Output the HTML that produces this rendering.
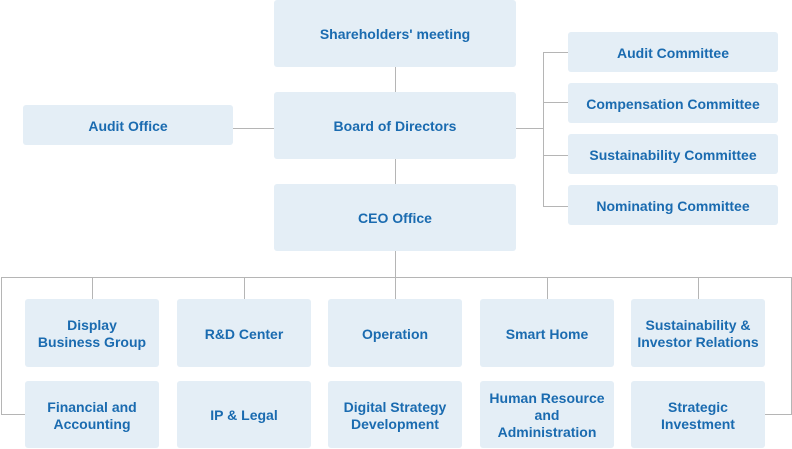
<!DOCTYPE html>
<html><head><meta charset="utf-8"><style>
body{margin:0;width:792px;height:449px;background:#fff;position:relative;overflow:hidden;font-family:"Liberation Sans",Arial,sans-serif}
.b{position:absolute;background:#e4eef6;border-radius:3px;display:flex;align-items:center;justify-content:center;text-align:center;color:#1a6bb0;font-weight:bold;font-size:14px;line-height:17px;box-sizing:border-box;padding-top:2px}
.l{position:absolute;background:#b5b5b5}
</style></head><body>
<div class="l" style="left:395px;top:67px;width:1px;height:184px"></div>
<div class="l" style="left:233px;top:128px;width:41px;height:1px"></div>
<div class="l" style="left:516px;top:128px;width:27px;height:1px"></div>
<div class="l" style="left:543px;top:52px;width:1px;height:155px"></div>
<div class="l" style="left:543px;top:52px;width:25px;height:1px"></div>
<div class="l" style="left:543px;top:102px;width:25px;height:1px"></div>
<div class="l" style="left:543px;top:155px;width:25px;height:1px"></div>
<div class="l" style="left:543px;top:206px;width:25px;height:1px"></div>
<div class="l" style="left:395px;top:251px;width:1px;height:26px"></div>
<div class="l" style="left:1px;top:277px;width:790px;height:1px"></div>
<div class="l" style="left:1px;top:277px;width:1px;height:138px"></div>
<div class="l" style="left:1px;top:414px;width:24px;height:1px"></div>
<div class="l" style="left:791px;top:277px;width:1px;height:138px"></div>
<div class="l" style="left:765px;top:414px;width:26px;height:1px"></div>
<div class="l" style="left:92px;top:277px;width:1px;height:22px"></div>
<div class="l" style="left:244px;top:277px;width:1px;height:22px"></div>
<div class="l" style="left:395px;top:277px;width:1px;height:22px"></div>
<div class="l" style="left:547px;top:277px;width:1px;height:22px"></div>
<div class="l" style="left:698px;top:277px;width:1px;height:22px"></div>

<div class="b" style="left:274px;top:0;width:242px;height:67px">Shareholders' meeting</div>
<div class="b" style="left:274px;top:92px;width:242px;height:67px">Board of Directors</div>
<div class="b" style="left:274px;top:184px;width:242px;height:67px">CEO Office</div>
<div class="b" style="left:23px;top:105px;width:210px;height:40px">Audit Office</div>
<div class="b" style="left:568px;top:32px;width:210px;height:40px">Audit Committee</div>
<div class="b" style="left:568px;top:83px;width:210px;height:40px">Compensation Committee</div>
<div class="b" style="left:568px;top:134px;width:210px;height:40px">Sustainability Committee</div>
<div class="b" style="left:568px;top:185px;width:210px;height:40px">Nominating Committee</div>

<div class="b" style="left:25px;top:299px;width:134px;height:68px">Display<br>Business Group</div>
<div class="b" style="left:177px;top:299px;width:134px;height:68px">R&amp;D Center</div>
<div class="b" style="left:328px;top:299px;width:134px;height:68px">Operation</div>
<div class="b" style="left:480px;top:299px;width:134px;height:68px">Smart Home</div>
<div class="b" style="left:631px;top:299px;width:134px;height:68px">Sustainability &amp;<br>Investor Relations</div>
<div class="b" style="left:25px;top:381px;width:134px;height:67px">Financial and<br>Accounting</div>
<div class="b" style="left:177px;top:381px;width:134px;height:67px">IP &amp; Legal</div>
<div class="b" style="left:328px;top:381px;width:134px;height:67px">Digital Strategy<br>Development</div>
<div class="b" style="left:480px;top:381px;width:134px;height:67px">Human Resource<br>and<br>Administration</div>
<div class="b" style="left:631px;top:381px;width:134px;height:67px">Strategic<br>Investment</div>
</body></html>
